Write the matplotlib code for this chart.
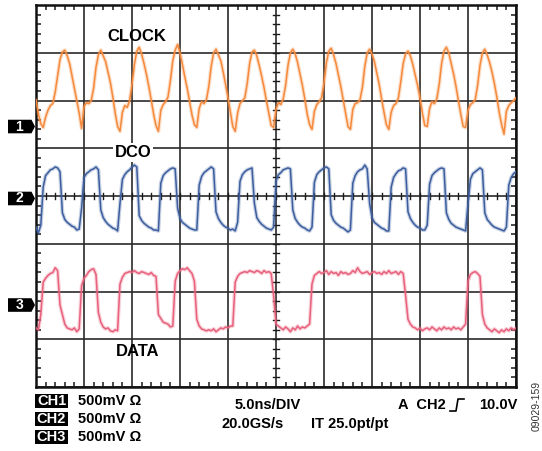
import numpy as np
import matplotlib
matplotlib.use("Agg")
import matplotlib.pyplot as plt
from matplotlib.patches import Polygon, Rectangle
from matplotlib.lines import Line2D
import matplotlib.transforms as mtransforms

plt.rcParams['font.family'] = ['Liberation Sans', 'DejaVu Sans']

# ---------------- data ----------------
sample_step_ns = 0.25          # time between samples
time_per_div_ns = 5.0
volts_per_div = 0.5

# CH1 CLOCK (V, relative to channel ground marker)
clock_v = [
    0.28, 0.13, 0.03,
    -0.01, 0.10, 0.17, 0.22, 0.24, 0.36, 0.53, 0.70, 0.78, 0.80, 0.74, 0.66, 0.53, 0.40, 0.27, 0.14,
    -0.02, 0.21, 0.25, 0.24, 0.27, 0.40, 0.62, 0.75, 0.80, 0.74, 0.68, 0.57, 0.46, 0.31, 0.14, 0.00,
    -0.05, 0.15, 0.22, 0.20, 0.27, 0.44, 0.65, 0.79, 0.83, 0.76, 0.66, 0.55, 0.42, 0.28, 0.13, 0.01,
    -0.05, 0.17, 0.23, 0.26, 0.31, 0.48, 0.69, 0.80, 0.86, 0.77, 0.65, 0.52, 0.40, 0.26, 0.12, 0.02,
    -0.01, 0.19, 0.26, 0.24, 0.28, 0.42, 0.63, 0.77, 0.81, 0.75, 0.69, 0.57, 0.44, 0.30, 0.15, 0.00,
    -0.05, 0.14, 0.24, 0.27, 0.30, 0.45, 0.66, 0.78, 0.80, 0.74, 0.64, 0.53, 0.41, 0.27, 0.14, 0.01,
    -0.01, 0.18, 0.25, 0.23, 0.29, 0.43, 0.64, 0.77, 0.81, 0.76, 0.67, 0.55, 0.43, 0.29, 0.13, 0.02,
    -0.03, 0.16, 0.23, 0.26, 0.30, 0.46, 0.67, 0.79, 0.82, 0.75, 0.66, 0.54, 0.42, 0.28, 0.14, 0.00,
    -0.03, 0.18, 0.24, 0.25, 0.28, 0.41, 0.63, 0.77, 0.81, 0.76, 0.68, 0.56, 0.44, 0.29, 0.15, 0.02,
    -0.03, 0.15, 0.22, 0.24, 0.30, 0.47, 0.66, 0.76, 0.79, 0.74, 0.65, 0.54, 0.43, 0.30, 0.14, 0.01,
    0.00, 0.19, 0.26, 0.24, 0.29, 0.44, 0.66, 0.79, 0.83, 0.77, 0.66, 0.55, 0.42, 0.27, 0.13, 0.00,
    -0.01, 0.17, 0.23, 0.25, 0.28, 0.43, 0.64, 0.77, 0.81, 0.75, 0.67, 0.57, 0.45, 0.31, 0.15, 0.02,
    -0.08, 0.16, 0.22, 0.25, 0.27, 0.30,
]

# CH2 DCO
dco_v = [
    -0.30, -0.36, -0.28, 0.12, 0.24, 0.27, 0.30, 0.31, 0.33, 0.32,
    0.28, -0.15, -0.22, -0.25, -0.27, -0.29, -0.30, -0.33, -0.32, -0.10,
    0.22, 0.26, 0.28, 0.30, 0.31, 0.33, 0.30, -0.12, -0.20, -0.24,
    -0.27, -0.29, -0.31, -0.32, -0.34, -0.05, 0.20, 0.25, 0.28, 0.30,
    0.33, 0.35, 0.33, -0.18, -0.23, -0.26, -0.28, -0.30, -0.31, -0.33,
    -0.33, -0.34, 0.16, 0.24, 0.27, 0.29, 0.31, 0.32, 0.31, -0.10,
    -0.21, -0.25, -0.27, -0.29, -0.31, -0.32, -0.33, -0.33, 0.14, 0.23,
    0.27, 0.29, 0.31, 0.33, 0.31, -0.14, -0.21, -0.25, -0.28, -0.30,
    -0.31, -0.33, -0.32, -0.34, -0.25, 0.18, 0.25, 0.28, 0.30, 0.31,
    0.32, -0.05, -0.20, -0.24, -0.27, -0.29, -0.31, -0.32, -0.33, -0.30,
    0.18, 0.25, 0.27, 0.30, 0.31, 0.32, 0.31, -0.12, -0.21, -0.25,
    -0.28, -0.30, -0.31, -0.33, -0.34, -0.30, 0.17, 0.25, 0.28, 0.30,
    0.32, 0.33, 0.31, -0.17, -0.23, -0.26, -0.28, -0.30, -0.31, -0.33,
    -0.35, -0.33, 0.16, 0.24, 0.28, 0.30, 0.31, 0.35, 0.31, -0.05,
    -0.20, -0.25, -0.27, -0.29, -0.31, -0.32, -0.34, -0.34, 0.12, 0.22,
    0.26, 0.29, 0.30, 0.32, 0.31, -0.14, -0.21, -0.25, -0.28, -0.30,
    -0.31, -0.33, -0.33, -0.28, 0.15, 0.24, 0.27, 0.29, 0.31, 0.32,
    0.31, -0.15, -0.22, -0.26, -0.28, -0.30, -0.31, -0.32, -0.33, -0.34,
    -0.05, 0.20, 0.26, 0.28, 0.30, 0.32, 0.30, -0.15, -0.22, -0.25,
    -0.28, -0.30, -0.31, -0.32, -0.33, -0.34, -0.30, 0.14, 0.22, 0.26,
    0.28,
]

# CH3 DATA
data_v = [
    -0.24, -0.26, -0.10, 0.24, 0.28, 0.31, 0.33, 0.34, 0.39, 0.36,
    0.00, -0.10, -0.20, -0.24, -0.25, -0.26, -0.24, -0.28, -0.25, 0.20,
    0.28, 0.31, 0.35, 0.37, 0.38, 0.32, -0.08, -0.18, -0.23, -0.25,
    -0.24, -0.27, -0.28, -0.26, -0.27, 0.22, 0.29, 0.33, 0.34, 0.35,
    0.34, 0.36, 0.34, 0.33, 0.35, 0.34, 0.33, 0.32, 0.34, 0.31,
    0.30, -0.10, -0.14, -0.18, -0.19, -0.20, -0.23, -0.22, 0.25, 0.33,
    0.36, 0.38, 0.37, 0.39, 0.36, 0.33, 0.25, -0.15, -0.22, -0.25,
    -0.26, -0.27, -0.26, -0.27, -0.25, -0.28, -0.26, -0.24, -0.25, -0.23,
    -0.24, -0.22, -0.22, 0.24, 0.30, 0.33, 0.34, 0.35, 0.34, 0.36,
    0.35, 0.34, 0.36, 0.35, 0.33, 0.36, 0.34, 0.35, 0.33, 0.10,
    -0.20, -0.22, -0.24, -0.26, -0.23, -0.25, -0.28, -0.24, -0.26, -0.22,
    -0.25, -0.23, -0.24, -0.22, -0.20, 0.22, 0.31, 0.33, 0.35, 0.33,
    0.34, 0.36, 0.32, 0.35, 0.33, 0.34, 0.31, 0.35, 0.33, 0.34,
    0.32, 0.33, 0.36, 0.34, 0.39, 0.35, 0.33, 0.34, 0.35, 0.32,
    0.34, 0.35, 0.33, 0.34, 0.32, 0.35, 0.33, 0.36, 0.33, 0.34,
    0.35, 0.32, 0.35, 0.33, 0.10, -0.15, -0.20, -0.23, -0.24, -0.26,
    -0.24, -0.27, -0.25, -0.24, -0.26, -0.23, -0.25, -0.27, -0.24, -0.26,
    -0.23, -0.25, -0.24, -0.26, -0.23, -0.25, -0.24, -0.26, -0.23, -0.20,
    0.25, 0.32, 0.34, 0.35, 0.33, 0.30, -0.10, -0.20, -0.24, -0.26,
    -0.28, -0.25, -0.27, -0.29, -0.26, -0.28, -0.25, -0.27, -0.24, -0.26,
    -0.24,
]

channel_names = ["CLOCK", "DCO", "DATA"]
channel_ids = ["1", "2", "3"]
channel_offsets_div = [5.455, 3.948, 1.717]
channel_colors = ["#F58A3C", "#3C5E9E", "#E8607C"]
ch_labels = ["CH1", "CH2", "CH3"]
ch_scales = ["500mV \u03a9", "500mV \u03a9", "500mV \u03a9"]
timebase_text = "5.0ns/DIV"
rate_text = "20.0GS/s"
interp_text = "IT 25.0pt/pt"
trigger_src = "A  CH2"
trigger_level = "10.0V"
figure_id = "09029-159"

# ---------------- figure ----------------
W, H = 542, 451
fig = plt.figure(figsize=(W / 100, H / 100), dpi=100)
fig.patch.set_facecolor("white")

def fx(px):
    return px / W

def fy(py):
    return 1 - py / H

ax = fig.add_axes([fx(36), fy(387), (516 - 36) / W, (387 - 5) / H])
n_div_x, n_div_y = 10, 8
ax.set_xlim(0, n_div_x * time_per_div_ns)
ax.set_ylim(0, n_div_y)

ax.set_xticks(np.arange(0, n_div_x + 1) * time_per_div_ns)
ax.set_yticks(np.arange(0, n_div_y + 1))
ax.set_xticks(np.arange(0, n_div_x * 5 + 1) * time_per_div_ns / 5, minor=True)
ax.set_yticks(np.arange(0, n_div_y * 5 + 1) / 5, minor=True)
ax.tick_params(which="major", length=0, labelbottom=False, labelleft=False)
ax.tick_params(which="minor", direction="in", length=3.8, width=1.1,
               color="#1a1a1a", top=True, right=True,
               labelbottom=False, labelleft=False)
ax.grid(True, which="major", color="#2a2a2a", lw=1.2, zorder=1)
ax.set_axisbelow(True)
for s in ax.spines.values():
    s.set_linewidth(1.8)
    s.set_color("#111111")

# cross ticks on the centre lines
xc = n_div_x * time_per_div_ns / 2
yc = n_div_y / 2
dy = 2.6 / 47.75
dx = 2.6 / 9.6
for xm in np.arange(0, n_div_x * 5 + 1) * time_per_div_ns / 5:
    ax.plot([xm, xm], [yc - dy, yc + dy], color="#1a1a1a", lw=1.0, zorder=2)
for ym in np.arange(0, n_div_y * 5 + 1) / 5:
    ax.plot([xc - dx, xc + dx], [ym, ym], color="#1a1a1a", lw=1.0, zorder=2)

# traces: faint wide band (noise envelope look) + core line
for vals, off, col in zip([clock_v, dco_v, data_v], channel_offsets_div, channel_colors):
    v = np.asarray(vals)
    t = np.arange(len(v)) * sample_step_ns
    y = off + v / volts_per_div
    ax.plot(t, y, color=col, lw=2.8, alpha=0.28, zorder=3,
            solid_joinstyle="round", solid_capstyle="round")
    ax.plot(t, y, color=col, lw=1.1, zorder=4, solid_joinstyle="round")

# channel names
ax.text(10.5, 7.35, channel_names[0], ha="center", va="center",
        fontsize=12, fontweight="bold", zorder=5)
ax.text(10.1, 4.92, channel_names[1], ha="center", va="center",
        fontsize=12, fontweight="bold", zorder=5,
        bbox=dict(boxstyle="square,pad=0.12", fc="white", ec="none"))
ax.text(10.6, 0.733, channel_names[2], ha="center", va="center",
        fontsize=12, fontweight="bold", zorder=5)

# ground markers
blend = mtransforms.blended_transform_factory(fig.transFigure, ax.transData)
hh = 6.8 / 47.75
for cid, off in zip(channel_ids, channel_offsets_div):
    poly = Polygon([(fx(8), off - hh), (fx(31.5), off - hh), (fx(35), off),
                    (fx(31.5), off + hh), (fx(8), off + hh)], closed=True,
                   transform=blend, fc="black", ec="none", clip_on=False, zorder=6)
    ax.add_artist(poly)
    ax.text(fx(19.5), off, cid, transform=blend, ha="center", va="center",
            color="white", fontsize=10, fontweight="bold", clip_on=False, zorder=7)

# bottom status text
rows = [401, 419, 437]
for lab, sc, py in zip(ch_labels, ch_scales, rows):
    fig.patches.append(Rectangle((fx(35), fy(py + 7)), (68 - 35) / W, 14 / H,
                                 transform=fig.transFigure, fc="black", ec="none"))
    fig.text(fx(51.5), fy(py), lab, color="white", ha="center", va="center",
             fontsize=10.5, fontweight="bold")
    fig.text(fx(78), fy(py), sc, ha="left", va="center",
             fontsize=10.5, fontweight="bold")

fig.text(fx(268), fy(405), timebase_text, ha="center", va="center",
         fontsize=10.5, fontweight="bold")
fig.text(fx(222), fy(424), rate_text, ha="left", va="center",
         fontsize=10.5, fontweight="bold")
fig.text(fx(311), fy(424), interp_text, ha="left", va="center",
         fontsize=10.5, fontweight="bold")
fig.text(fx(398), fy(405), trigger_src, ha="left", va="center",
         fontsize=10.5, fontweight="bold")
fig.text(fx(518), fy(405), trigger_level, ha="right", va="center",
         fontsize=10.5, fontweight="bold")
# rising-edge trigger symbol
fig.add_artist(Line2D([fx(450), fx(456), fx(458), fx(464)],
                      [fy(411), fy(411), fy(399), fy(399)],
                      transform=fig.transFigure, color="black", lw=1.2))

fig.text(fx(537), fy(406), figure_id, rotation=90, ha="center", va="center",
         fontsize=7.5, color="#333333")

fig.savefig("out.png", dpi=100)
